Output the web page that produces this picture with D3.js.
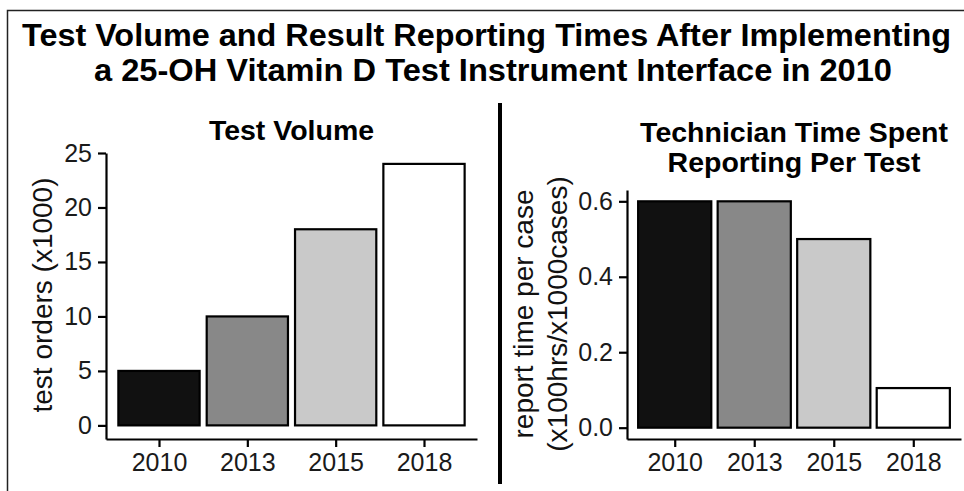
<!DOCTYPE html>
<html>
<head>
<meta charset="utf-8">
<script src="https://cdn.jsdelivr.net/npm/d3@7"></script>
<style>
  body { margin: 0; background: #fff; }
  svg { display: block; font-family: "Liberation Sans", Arial, Helvetica, sans-serif; }
</style>
</head>
<body>
<svg id="target" width="964" height="491"></svg>
<script>
// Data
const years = ["2010", "2013", "2015", "2018"];
const testVolume = [5, 10, 18, 24];          // test orders (x1000)
const reportTime = [0.6, 0.6, 0.5, 0.105];   // x100hrs / x1000 cases
const volumeTicks = [0, 5, 10, 15, 20, 25];
const timeTicks = [0, 0.2, 0.4, 0.6];
const barFills = ["#111111", "#888888", "#c9c9c9", "#ffffff"];

const titleLines = [
    "Test Volume and Result Reporting Times After Implementing",
    "a 25-OH Vitamin D Test Instrument Interface in 2010"
];

function main() {
    let svg = d3.select("#target");

    // white background + cropped frame (left and top edges only)
    svg.append("rect").attr("width", 964).attr("height", 491).attr("fill", "#fff");
    svg.append("path")
        .attr("d", "M7.5,491 V10.5 H964")
        .attr("fill", "none")
        .attr("stroke", "#222")
        .attr("stroke-width", 1.5);

    // main title (stretched to the width it has in the figure)
    svg.append("text")
        .attr("x", 22).attr("y", 46)
        .attr("font-size", 32).attr("font-weight", "bold")
        .attr("textLength", 929).attr("lengthAdjust", "spacingAndGlyphs")
        .text(titleLines[0]);
    svg.append("text")
        .attr("x", 94).attr("y", 81)
        .attr("font-size", 32).attr("font-weight", "bold")
        .attr("textLength", 798).attr("lengthAdjust", "spacingAndGlyphs")
        .text(titleLines[1]);

    // divider between panels
    svg.append("line")
        .attr("x1", 500).attr("x2", 500)
        .attr("y1", 103).attr("y2", 484)
        .attr("stroke", "#000")
        .attr("stroke-width", 4);

    // left panel: test volume
    drawPanel(svg, {
        values: testVolume,
        ticks: volumeTicks,
        fmt: d3.format("d"),
        xRange: [106, 477],
        yDomain: [-1.25, 25],
        yRange: [439, 153],
        title: ["Test Volume"],
        titleY: 140,
        yLabel: ["test orders (x1000)"],
        yLabelX: 52,
        yLabelCenter: 295
    });

    // right panel: technician time
    drawPanel(svg, {
        values: reportTime,
        ticks: timeTicks,
        fmt: d3.format(".1f"),
        xRange: [627, 961],
        yDomain: [-0.03, 0.63],
        yRange: [439, 190],
        title: ["Technician Time Spent", "Reporting Per Test"],
        titleY: 142,
        yLabel: ["report time per case", "(x100hrs/x1000cases)"],
        yLabelX: 533,
        yLabelCenter: 314
    });
}

function drawPanel(svg, o) {
    let x = d3.scalePoint()
        .domain(years)
        .range(o.xRange)
        .padding(0.6);

    let y = d3.scaleLinear()
        .domain(o.yDomain)
        .range(o.yRange);

    let bw = x.step() * 0.92;

    // bars
    svg.append("g")
        .selectAll("rect")
        .data(years)
        .enter()
        .append("rect")
        .attr("x", d => x(d) - bw / 2)
        .attr("y", (d, i) => y(o.values[i]))
        .attr("width", bw)
        .attr("height", (d, i) => y(0) - y(o.values[i]))
        .attr("fill", (d, i) => barFills[i])
        .attr("stroke", "#000")
        .attr("stroke-width", 2.2);

    // x axis
    let gx = svg.append("g")
        .attr("transform", "translate(0," + o.yRange[0] + ")")
        .call(d3.axisBottom(x).tickSize(8).tickSizeOuter(0).tickPadding(6));

    // y axis
    let gy = svg.append("g")
        .attr("transform", "translate(" + o.xRange[0] + ",0)")
        .call(d3.axisLeft(y).tickValues(o.ticks).tickFormat(o.fmt)
            .tickSize(8).tickSizeOuter(0).tickPadding(6));

    [gx, gy].forEach(g => {
        g.attr("font-size", 25).attr("font-family", "Liberation Sans, Arial, sans-serif");
        g.select(".domain").attr("stroke", "#000").attr("stroke-width", 2.2);
        g.selectAll(".tick line").attr("stroke", "#000").attr("stroke-width", 2.2);
        g.selectAll(".tick text").attr("fill", "#1a1a1a");
    });

    // panel title
    let cx = (o.xRange[0] + o.xRange[1]) / 2;
    o.title.forEach((t, i) => {
        svg.append("text")
            .attr("x", cx)
            .attr("y", o.titleY + i * 30)
            .attr("text-anchor", "middle")
            .attr("font-size", 28.5)
            .attr("font-weight", "bold")
            .text(t);
    });

    // y axis title
    o.yLabel.forEach((t, i) => {
        svg.append("text")
            .attr("transform", "translate(" + (o.yLabelX + i * 34) + "," + o.yLabelCenter + ") rotate(-90)")
            .attr("text-anchor", "middle")
            .attr("font-size", 28)
            .attr("fill", "#111")
            .text(t);
    });
}

main();
</script>
</body>
</html>
